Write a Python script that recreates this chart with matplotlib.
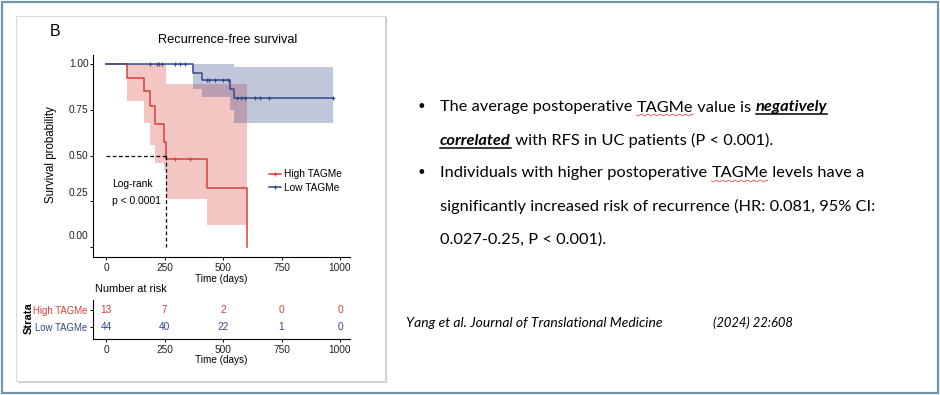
import matplotlib
matplotlib.use('Agg')
import matplotlib.pyplot as plt
from matplotlib.patches import Rectangle
from matplotlib.lines import Line2D
from matplotlib.transforms import blended_transform_factory, ScaledTranslation
import numpy as np

W, H = 940, 395

# ---------------- data ----------------
groups = ['High TAGMe', 'Low TAGMe']

high_time = [0, 91, 161, 188, 210, 249, 256, 430, 602]
high_surv = [1.0, 0.923, 0.853, 0.771, 0.674, 0.575, 0.483, 0.321, 0.0]
high_lower = [1.0, 0.80, 0.675, 0.56, 0.46, 0.42, 0.26, 0.12, 0.0]
high_upper = [1.0, 1.0, 1.0, 1.0, 1.0, 1.0, 0.888, 0.888, 0.0]
high_censor = [295, 359]

low_time = [0, 370, 409, 530, 547, 969]
low_surv = [1.0, 0.95, 0.913, 0.863, 0.816, 0.816]
low_lower = [1.0, 0.865, 0.82, 0.75, 0.676, 0.676]
low_upper = [1.0, 1.0, 1.0, 1.0, 0.985, 0.985]
low_censor = [188, 217, 228, 238, 295, 316, 338, 430, 441, 466, 501, 523,
              558, 575, 594, 637, 658, 698, 969]

median_high = 256

risk_times = [0, 250, 500, 750, 1000]
high_risk = [13, 7, 2, 0, 0]
low_risk = [44, 40, 22, 1, 0]

x_ticks = [0, 250, 500, 750, 1000]
y_ticks = [0.0, 0.25, 0.50, 0.75, 1.00]
y_ticklabels = ['0.00', '0.25', '0.50', '0.75', '1.00']
y_label_shift_px = [11, 8, 0, 0, 0]   # label placement as in the source image

bullets = [
    [("The average postoperative ", 'n'), ("TAGMe", 'w'), (" value is ", 'n'), ("negatively", 'b')],
    [("correlated", 'b'), (" with RFS in UC patients (P < 0.001).", 'n')],
    [("Individuals with higher postoperative ", 'n'), ("TAGMe", 'w'), (" levels have a", 'n')],
    [("significantly increased risk of recurrence (HR: 0.081, 95% CI:", 'n')],
    [("0.027-0.25, P < 0.001).", 'n')],
]
bullet_lines = [0, 2]
citation_left = "Yang et al. Journal of Translational Medicine"
citation_right = "(2024) 22:608"

RED = '#D8403A'
BLUE = '#34488A'
CHART_FONT = ['Liberation Sans', 'DejaVu Sans']
TEXT_FONT = ['Lato', 'DejaVu Sans']

fig = plt.figure(figsize=(W / 100, H / 100), dpi=100)
fig.patch.set_facecolor('white')


def fx(px):
    return np.asarray(px) / W


def fy(py):
    return 1 - np.asarray(py) / H


def add_ax(x0, y0, x1, y1):
    return fig.add_axes([fx(x0), fy(y1), (x1 - x0) / W, (y1 - y0) / H])


# ---------------- frames ----------------
fig.patches.append(Rectangle((fx(1.5), fy(392.5)), 936.5 / W, 391 / H,
                             transform=fig.transFigure, fill=False,
                             edgecolor='#6F95B0', lw=1.6, zorder=-3))
fig.patches.append(Rectangle((fx(18), fy(383)), 369 / W, 366 / H,
                             transform=fig.transFigure, facecolor='#C8C8C8',
                             edgecolor='none', zorder=-2))
fig.patches.append(Rectangle((fx(16), fy(381)), 369 / W, 365 / H,
                             transform=fig.transFigure, facecolor='white',
                             edgecolor='#DADADA', lw=0.8, zorder=-1))

# ---------------- KM axes ----------------
X0, X1 = 93, 350
px_per_day = 0.234
xlo = (X0 - 106) / px_per_day
xhi = (X1 - 106) / px_per_day

ax = add_ax(X0, 55, X1, 257)
ax.set_xlim(xlo, xhi)
ax.set_ylim((247 - 257) / 183, (247 - 55) / 183)
ax.patch.set_alpha(0)

ax.fill_between(high_time, high_lower, high_upper, step='post',
                color=RED, alpha=0.3, lw=0)
ax.fill_between(low_time, low_lower, low_upper, step='post',
                color=BLUE, alpha=0.3, lw=0)
ax.step(high_time, high_surv, where='post', color=RED, lw=1.1)
ax.step(low_time, low_surv, where='post', color=BLUE, lw=1.1)


def surv_at(times, surv, t):
    idx = np.searchsorted(times, t, side='right') - 1
    return np.array(surv)[idx]


ax.plot(high_censor, surv_at(high_time, high_surv, high_censor), '+',
        color=RED, ms=3.5, mew=0.8)
ax.plot(low_censor, surv_at(low_time, low_surv, low_censor), '+',
        color=BLUE, ms=3.5, mew=0.8)

ax.plot([0, median_high], [0.5, 0.5], color='black', lw=0.9, ls=(0, (3, 2)))
ax.plot([median_high, median_high], [0.5, 0], color='black', lw=0.9, ls=(0, (3, 2)))

for s in ['top', 'right']:
    ax.spines[s].set_visible(False)
for s in ['left', 'bottom']:
    ax.spines[s].set_linewidth(0.8)
ax.set_xticks(x_ticks)
ax.set_xticklabels([str(t) for t in x_ticks])
ax.set_yticks(y_ticks)
ax.set_yticklabels([''] * len(y_ticks))
ax.tick_params(direction='out', length=2.5, width=0.7, pad=2,
               labelsize=7.3, labelcolor='#222222')
for lab in ax.get_xticklabels():
    lab.set_family(CHART_FONT)
ytrans = blended_transform_factory(ax.transAxes, ax.transData)
for yv, lab, sh in zip(y_ticks, y_ticklabels, y_label_shift_px):
    ax.text(0, yv, lab, transform=ytrans + ScaledTranslation(-4.5 / 100, sh / 100, fig.dpi_scale_trans),
            ha='right', va='center', fontsize=7.3, family=CHART_FONT, color='#222222')
ax.set_xlabel('Time (days)', fontsize=7.2, family=CHART_FONT, labelpad=0.5)

# legend
handles = [Line2D([], [], color=RED, lw=1.1, marker='+', ms=3.5, mew=0.8),
           Line2D([], [], color=BLUE, lw=1.1, marker='+', ms=3.5, mew=0.8)]
ax.legend(handles, groups, loc='center left', frameon=False,
          bbox_to_anchor=(fx(269), fy(181)), bbox_transform=fig.transFigure,
          prop={'family': CHART_FONT, 'size': 7.3}, handlelength=1.2,
          handletextpad=0.3, labelspacing=0.35, borderaxespad=0, borderpad=0)

ax.text(fx(112), fy(184), 'Log-rank', transform=fig.transFigure,
        fontsize=7.4, family=CHART_FONT, va='center', ha='left')
ax.text(fx(112), fy(201), 'p < 0.0001', transform=fig.transFigure,
        fontsize=7.4, family=CHART_FONT, va='center', ha='left')

fig.text(fx(228), fy(40), 'Recurrence-free survival', fontsize=9.2,
         family=CHART_FONT, ha='center', va='center')
fig.text(fx(55), fy(31), 'B', fontsize=11.5, family=CHART_FONT,
         ha='center', va='center')
fig.text(fx(51), fy(155), 'Survival probability', fontsize=8.3,
         family=CHART_FONT, ha='center', va='center', rotation=90)

# ---------------- risk table ----------------
rx = add_ax(X0, 300, X1, 339)
rx.set_xlim(xlo, xhi)
rx.set_ylim(-12 / 17, 1 + 10 / 17)
rx.patch.set_alpha(0)
for t, n in zip(risk_times, high_risk):
    rx.text(t, 1, str(n), color=RED, fontsize=7.3, family=CHART_FONT,
            ha='center', va='center')
for t, n in zip(risk_times, low_risk):
    rx.text(t, 0, str(n), color=BLUE, fontsize=7.3, family=CHART_FONT,
            ha='center', va='center')
for s in ['top', 'right']:
    rx.spines[s].set_visible(False)
for s in ['left', 'bottom']:
    rx.spines[s].set_linewidth(0.8)
rx.set_xticks(x_ticks)
rx.set_xticklabels([str(t) for t in x_ticks])
rx.set_yticks([1, 0])
rx.set_yticklabels(groups)
rx.tick_params(direction='out', length=2.5, width=0.7, pad=1.5,
               labelsize=7.3, labelcolor='#222222')
rx.tick_params(axis='y', labelsize=6.9)
for lab in rx.get_xticklabels() + rx.get_yticklabels():
    lab.set_family(CHART_FONT)
rx.get_yticklabels()[0].set_color(RED)
rx.get_yticklabels()[1].set_color(BLUE)
rx.set_xlabel('Time (days)', fontsize=7.2, family=CHART_FONT, labelpad=0.5)
fig.text(fx(95), fy(289), 'Number at risk', fontsize=7.9, family=CHART_FONT,
         ha='left', va='center')
fig.text(fx(29), fy(318), 'Strata', fontsize=8, family=CHART_FONT,
         ha='center', va='center', rotation=90, fontweight='bold')

# ---------------- right-hand text ----------------
renderer = fig.canvas.get_renderer()
FS = 11.8


def width_of(s, **kw):
    t1 = fig.text(0, 0, s + '|', **kw)
    t2 = fig.text(0, 0, '|', **kw)
    w = t1.get_window_extent(renderer).width - t2.get_window_extent(renderer).width
    t1.remove()
    t2.remove()
    return w


base_y = [111.5, 145, 177.5, 211, 243.5]
x_start = 440
for i, segs in enumerate(bullets):
    x = x_start
    yb = base_y[i]
    for s, style in segs:
        kw = dict(fontsize=FS, family=TEXT_FONT, color='black')
        if style == 'b':
            kw.update(fontweight='bold', style='italic')
        w = width_of(s, **kw)
        fig.text(fx(x), fy(yb), s, ha='left', va='baseline', **kw)
        if style == 'b':
            fig.lines.append(Line2D([fx(x), fx(x + w)], [fy(yb + 2.5)] * 2,
                                    transform=fig.transFigure, color='black', lw=1.1))
        if style == 'w':
            xs = np.linspace(x, x + w, 60)
            ys = yb + 3.5 + 0.9 * np.sin((xs - x) / 1.0)
            fig.lines.append(Line2D(fx(xs), fy(ys), transform=fig.transFigure,
                                    color='#E03030', lw=0.5))
        x += w
for i in bullet_lines:
    fig.text(fx(421), fy(base_y[i] - 4), u'\u2022', fontsize=FS,
             family=['DejaVu Sans'], ha='center', va='center')

fig.text(fx(406), fy(327), citation_left, fontsize=10, family=TEXT_FONT,
         style='italic', ha='left', va='baseline')
fig.text(fx(713), fy(327), citation_right, fontsize=9.4, family=TEXT_FONT,
         style='italic', ha='left', va='baseline')

fig.savefig('out.png', dpi=100)
